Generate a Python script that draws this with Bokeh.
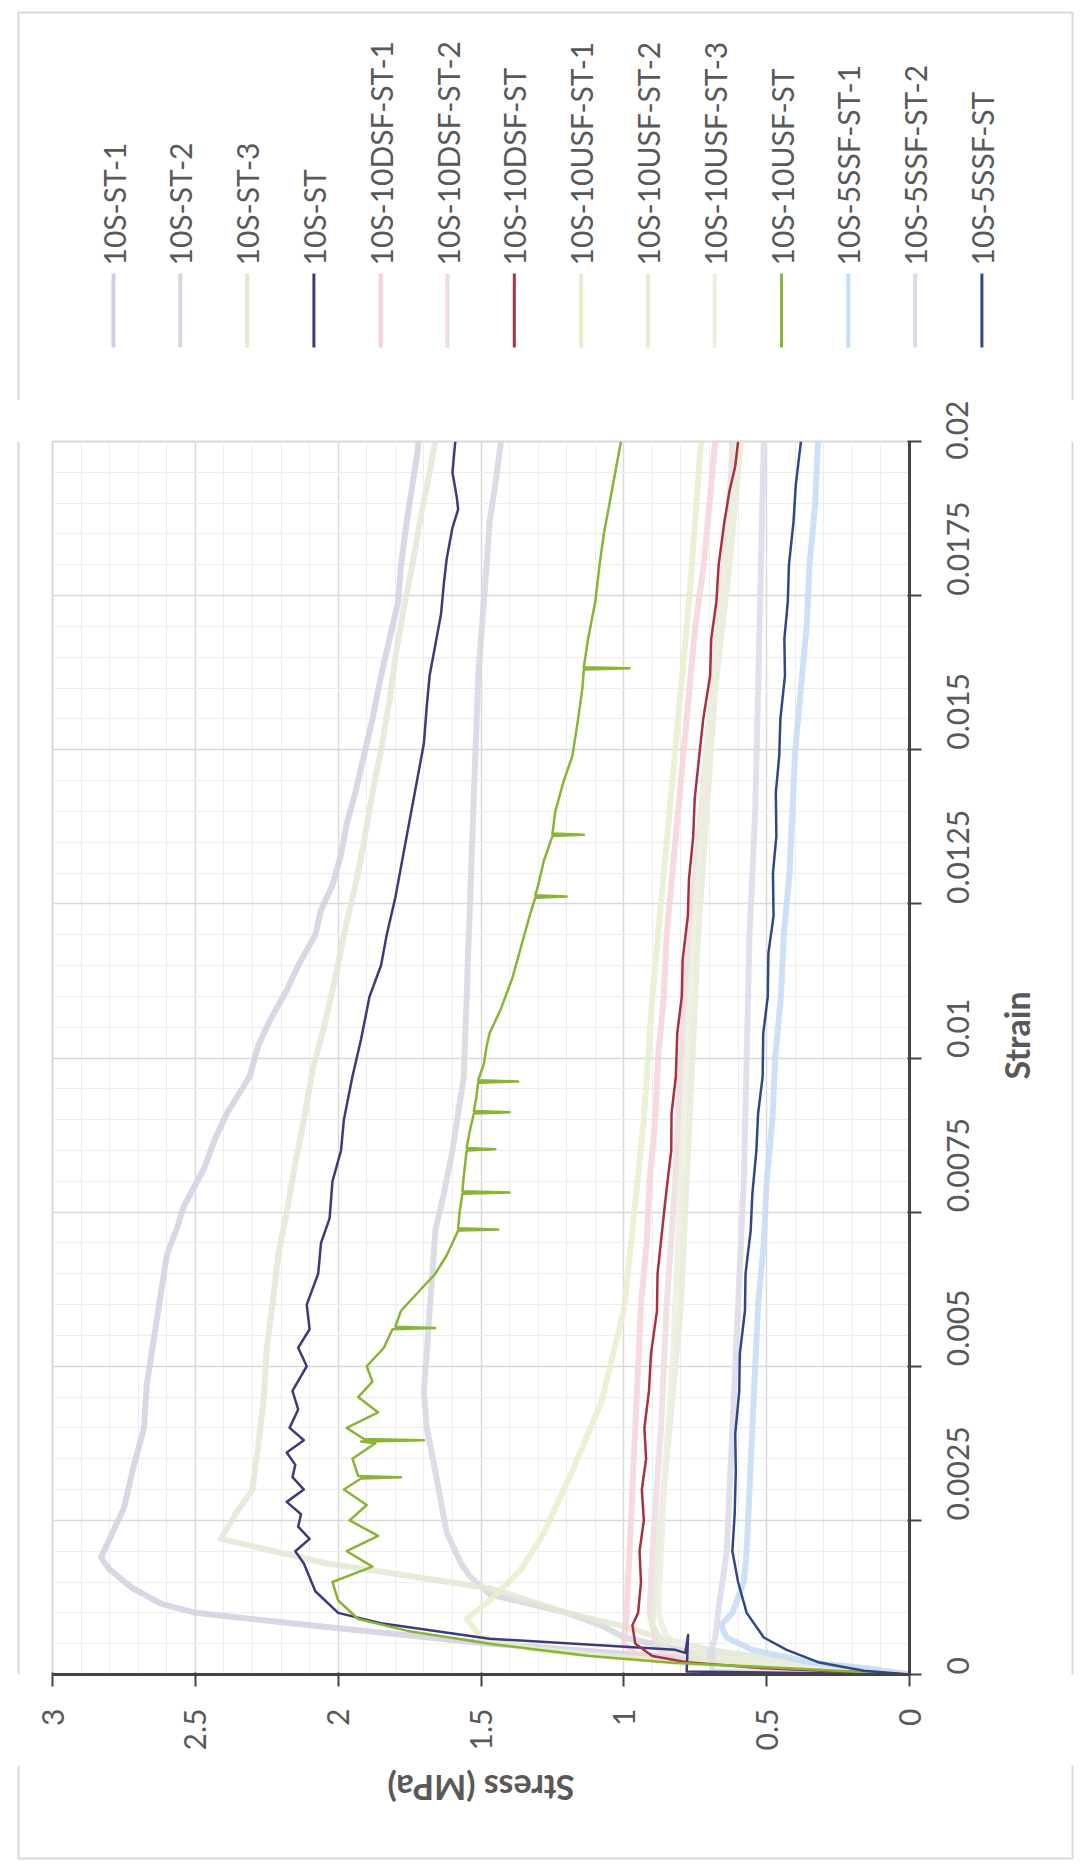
from math import pi

from bokeh.core.properties import value
from bokeh.embed import file_html
from bokeh.layouts import column, row
from bokeh.models import NumeralTickFormatter, Range1d, SingleIntervalTicker
from bokeh.plotting import figure
from bokeh.resources import INLINE

# ---------------------------------------------------------------- data
series_names = [
    "10S-ST-1", "10S-ST-2", "10S-ST-3", "10S-ST",
    "10S-10DSF-ST-1", "10S-10DSF-ST-2", "10S-10DSF-ST",
    "10S-10USF-ST-1", "10S-10USF-ST-2", "10S-10USF-ST-3", "10S-10USF-ST",
    "10S-5SSF-ST-1", "10S-5SSF-ST-2", "10S-5SSF-ST",
]

st1_strain = [0, 0.0001, 0.0002, 0.0003, 0.0005, 0.00077, 0.001, 0.00115, 0.0014, 0.0017,
              0.0019, 0.0023, 0.0027, 0.0033, 0.004, 0.0047, 0.0053, 0.0062, 0.0068, 0.0073,
              0.0076, 0.0082, 0.0087, 0.0091, 0.0097, 0.0102, 0.0106, 0.0111, 0.0115, 0.012,
              0.0124, 0.0128, 0.0133, 0.0138, 0.0143, 0.0149, 0.0155, 0.0162, 0.0168, 0.0174,
              0.018, 0.0187, 0.0193, 0.0199, 0.02]
st1_stress = [0, 0.3, 0.6, 0.89, 1.47, 2.04, 2.5, 2.62, 2.72, 2.8,
              2.83, 2.79, 2.75, 2.72, 2.68, 2.67, 2.65, 2.62, 2.6, 2.56,
              2.54, 2.47, 2.43, 2.39, 2.31, 2.28, 2.24, 2.18, 2.14, 2.08,
              2.06, 2.02, 1.99, 1.97, 1.94, 1.91, 1.88, 1.85, 1.82, 1.79,
              1.78, 1.76, 1.74, 1.72, 1.72]

st2_strain = [0, 0.0001, 0.0002, 0.0004, 0.0006, 0.0008, 0.001, 0.0013, 0.0016, 0.0018,
              0.0023, 0.0028, 0.0033, 0.004, 0.0046, 0.0052, 0.0059, 0.0065, 0.0072, 0.0078,
              0.0085, 0.0091, 0.0097, 0.0104, 0.011, 0.0117, 0.0123, 0.013, 0.0136, 0.0143,
              0.0149, 0.0155, 0.0162, 0.0168, 0.0174, 0.018, 0.0187, 0.0193, 0.02]
st2_stress = [0, 0.25, 0.5, 0.8, 1.0, 1.08, 1.2, 1.47, 1.54, 1.57,
              1.62, 1.64, 1.66, 1.69, 1.7, 1.69, 1.68, 1.67, 1.66, 1.63,
              1.6, 1.58, 1.56, 1.555, 1.55, 1.545, 1.54, 1.535, 1.53, 1.525,
              1.52, 1.515, 1.51, 1.5, 1.49, 1.48, 1.47, 1.45, 1.43]

st3_strain = [0, 0.0001, 0.0002, 0.0004, 0.0006, 0.00077, 0.001, 0.0014, 0.0018, 0.0022,
              0.0026, 0.003, 0.0037, 0.0045, 0.0053, 0.006, 0.0068, 0.0075, 0.0083, 0.009,
              0.0098, 0.0105, 0.0113, 0.012, 0.0128, 0.0135, 0.0143, 0.015, 0.0158, 0.0165,
              0.0173, 0.018, 0.0188, 0.0195, 0.02]
st3_stress = [0, 0.2, 0.4, 0.7, 0.88, 0.99, 1.2, 1.47, 2.04, 2.41,
              2.36, 2.3, 2.28, 2.26, 2.25, 2.23, 2.21, 2.18, 2.15, 2.12,
              2.09, 2.05, 2.01, 1.98, 1.94, 1.91, 1.88, 1.85, 1.82, 1.8,
              1.77, 1.74, 1.71, 1.68, 1.66]

st_strain = [0, 0.00005, 0.00064, 0.00035, 0.0004, 0.00058, 0.00083, 0.001, 0.00135,
             0.0018, 0.002, 0.0022, 0.0024, 0.0026, 0.0028, 0.003, 0.0032, 0.0034, 0.0036,
             0.0038, 0.004, 0.0043, 0.0046, 0.005, 0.0053, 0.0056, 0.006, 0.0065, 0.007,
             0.0074, 0.008, 0.0085, 0.009, 0.0097, 0.0103, 0.011, 0.0115, 0.012, 0.0126,
             0.0131, 0.0136, 0.0141, 0.0146, 0.0151, 0.0157, 0.0162, 0.0167, 0.0172, 0.0177,
             0.0181, 0.0186, 0.0189, 0.0191, 0.0195, 0.02]
st_stress = [0, 0.78, 0.775, 0.785, 0.82, 1.47, 1.85, 2.0, 2.08,
             2.12, 2.15, 2.1, 2.14, 2.13, 2.18, 2.12, 2.16, 2.15, 2.18,
             2.12, 2.17, 2.14, 2.16, 2.11, 2.14, 2.1, 2.11, 2.07, 2.06,
             2.03, 2.02, 1.99, 1.98, 1.95, 1.92, 1.89, 1.85, 1.83, 1.8,
             1.78, 1.76, 1.74, 1.72, 1.7, 1.69, 1.68, 1.66, 1.64, 1.63,
             1.62, 1.6, 1.58, 1.585, 1.6, 1.59]

dsf1_strain = [0, 0.0001, 0.0002, 0.0003, 0.0005, 0.001, 0.002, 0.003, 0.004, 0.005,
               0.006, 0.007, 0.008, 0.009, 0.01, 0.011, 0.012, 0.013, 0.014, 0.015,
               0.016, 0.017, 0.018, 0.019, 0.02]
dsf1_stress = [0, 0.4, 0.75, 0.95, 1.0, 0.99, 0.98, 0.97, 0.96, 0.95,
               0.94, 0.92, 0.91, 0.89, 0.88, 0.86, 0.85, 0.83, 0.81, 0.79,
               0.77, 0.75, 0.72, 0.7, 0.68]

dsf2_strain = [0, 0.0001, 0.0002, 0.0004, 0.001, 0.002, 0.004, 0.006, 0.008, 0.01,
               0.012, 0.014, 0.016, 0.018, 0.019, 0.02]
dsf2_stress = [0, 0.35, 0.7, 0.88, 0.91, 0.9, 0.87, 0.85, 0.82, 0.8,
               0.77, 0.73, 0.69, 0.65, 0.63, 0.62]

dsf_strain = [0, 0.00005, 0.0001, 0.0002, 0.0003, 0.0005, 0.0008, 0.001, 0.0015, 0.002,
              0.0025, 0.003, 0.0035, 0.004, 0.0046, 0.0052, 0.0059, 0.0065, 0.0072, 0.0078,
              0.0085, 0.0091, 0.0097, 0.0104, 0.011, 0.0116, 0.0123, 0.0129, 0.0136, 0.0142,
              0.0149, 0.0155, 0.0162, 0.0168, 0.0174, 0.018, 0.0187, 0.0192, 0.0196, 0.02]
dsf_stress = [0, 0.25, 0.5, 0.78, 0.9, 0.96, 0.97, 0.95, 0.94, 0.945,
              0.93, 0.937, 0.922, 0.928, 0.912, 0.905, 0.884, 0.882, 0.866, 0.852,
              0.834, 0.833, 0.818, 0.813, 0.797, 0.794, 0.776, 0.772, 0.757, 0.752,
              0.736, 0.722, 0.698, 0.694, 0.676, 0.668, 0.648, 0.63, 0.61, 0.6]

usf1_strain = [0, 0.0001, 0.0002, 0.0004, 0.0006, 0.0009, 0.0012, 0.0017, 0.0023, 0.0033,
               0.0044, 0.0059, 0.0072, 0.009, 0.011, 0.013, 0.015, 0.0175, 0.02]
usf1_stress = [0, 0.4, 0.8, 1.3, 1.5, 1.55, 1.47, 1.36, 1.28, 1.18,
               1.08, 1.0, 0.97, 0.93, 0.9, 0.86, 0.82, 0.77, 0.73]

usf2_strain = [0, 0.0001, 0.0002, 0.0004, 0.0008, 0.002, 0.004, 0.006, 0.008, 0.01,
               0.012, 0.014, 0.016, 0.018, 0.02]
usf2_stress = [0, 0.35, 0.65, 0.85, 0.9, 0.88, 0.84, 0.8, 0.78, 0.76,
               0.74, 0.71, 0.68, 0.63, 0.59]

usf3_strain = [0, 0.0001, 0.0003, 0.0006, 0.001, 0.003, 0.005, 0.007, 0.009, 0.011,
               0.013, 0.015, 0.017, 0.019, 0.02]
usf3_stress = [0, 0.3, 0.7, 0.85, 0.88, 0.86, 0.83, 0.81, 0.79, 0.77,
               0.74, 0.71, 0.67, 0.62, 0.6]

usf_strain = [0, 0.00005, 0.0001, 0.00019, 0.0003, 0.0004, 0.0005, 0.0007, 0.0009, 0.0012,
              0.0015, 0.00175, 0.002, 0.00225, 0.0025, 0.00275, 0.003, 0.00318, 0.0032, 0.00322,
              0.0035, 0.00375, 0.00378, 0.0038, 0.00382, 0.004, 0.00425, 0.0045, 0.00475, 0.005,
              0.0053, 0.0056, 0.00562, 0.00564, 0.0059, 0.0062, 0.0065, 0.0068, 0.007, 0.0072,
              0.00722, 0.00724, 0.0075, 0.0078, 0.00782, 0.00784, 0.0081, 0.0085, 0.00852, 0.00854,
              0.0088, 0.0091, 0.00912, 0.00914, 0.0094, 0.0096, 0.00962, 0.00964, 0.0099, 0.0102,
              0.0104, 0.0108,
              0.0113, 0.0118, 0.0123, 0.0126, 0.01262, 0.01264, 0.0128, 0.0132, 0.0136, 0.01362,
              0.01364, 0.014, 0.0145, 0.0149, 0.0155, 0.016, 0.0163, 0.01632, 0.01634, 0.0168,
              0.0174, 0.018, 0.0185, 0.019, 0.0195, 0.02]
usf_stress = [0, 0.2, 0.42, 0.83, 1.12, 1.3, 1.47, 1.75, 1.93, 2.0,
              2.02, 1.88, 1.97, 1.86, 1.96, 1.9, 1.98, 1.92, 1.78, 1.93,
              1.95, 1.87, 1.92, 1.7, 1.91, 1.97, 1.86, 1.93, 1.88, 1.9,
              1.84, 1.81, 1.66, 1.8, 1.78, 1.72, 1.66, 1.62, 1.6, 1.58,
              1.44, 1.58, 1.575, 1.565, 1.4, 1.565, 1.56, 1.55, 1.45, 1.55,
              1.54, 1.525, 1.4, 1.525, 1.515, 1.51, 1.37, 1.51, 1.49, 1.48,
              1.47, 1.43,
              1.39, 1.36, 1.33, 1.31, 1.2, 1.31, 1.3, 1.28, 1.25, 1.14,
              1.25, 1.24, 1.21, 1.18, 1.16, 1.145, 1.14, 0.98, 1.14, 1.125,
              1.1, 1.085, 1.07, 1.05, 1.03, 1.01]

ssf1_strain = [0, 0.0001, 0.0002, 0.0004, 0.0006, 0.0008, 0.001, 0.0015, 0.002, 0.003,
               0.004, 0.005, 0.006, 0.007, 0.008, 0.009, 0.01, 0.011, 0.012, 0.013,
               0.014, 0.015, 0.016, 0.017, 0.018, 0.019, 0.02]
ssf1_stress = [0, 0.15, 0.35, 0.55, 0.64, 0.66, 0.62, 0.58, 0.57, 0.56,
               0.55, 0.54, 0.53, 0.51, 0.5, 0.48, 0.47, 0.45, 0.44, 0.42,
               0.41, 0.4, 0.38, 0.36, 0.35, 0.33, 0.32]

ssf2_strain = [0, 0.00005, 0.0005, 0.0003, 0.0006, 0.001, 0.002, 0.004, 0.006, 0.008,
               0.01, 0.012, 0.014, 0.016, 0.018, 0.02]
ssf2_stress = [0, 0.69, 0.69, 0.7, 0.68, 0.67, 0.64, 0.62, 0.6, 0.58,
               0.57, 0.56, 0.54, 0.53, 0.52, 0.51]

ssf_strain = [0, 0.00006, 0.0002, 0.0004, 0.0006, 0.001, 0.0015, 0.002, 0.0026, 0.0033,
              0.0039, 0.0046, 0.0052, 0.0059, 0.0065, 0.0072, 0.0078, 0.0085, 0.0091, 0.0097,
              0.0104, 0.011, 0.0117, 0.0123, 0.013, 0.0136, 0.0143, 0.0149, 0.0155, 0.0162,
              0.0168, 0.0174, 0.018, 0.0187, 0.0193, 0.02]
ssf_stress = [0, 0.16, 0.32, 0.43, 0.51, 0.57, 0.6, 0.62, 0.612, 0.608,
              0.61, 0.596, 0.594, 0.576, 0.574, 0.556, 0.55, 0.536, 0.53, 0.514,
              0.512, 0.496, 0.494, 0.476, 0.478, 0.466, 0.468, 0.456, 0.452, 0.436,
              0.438, 0.426, 0.422, 0.406, 0.398, 0.38]

series_strain = [st1_strain, st2_strain, st3_strain, st_strain,
                 dsf1_strain, dsf2_strain, dsf_strain,
                 usf1_strain, usf2_strain, usf3_strain, usf_strain,
                 ssf1_strain, ssf2_strain, ssf_strain]
series_stress = [st1_stress, st2_stress, st3_stress, st_stress,
                 dsf1_stress, dsf2_stress, dsf_stress,
                 usf1_stress, usf2_stress, usf3_stress, usf_stress,
                 ssf1_stress, ssf2_stress, ssf_stress]

x_title = "Stress (MPa)"
y_title = "Strain"

# ---------------------------------------------------------------- styling
series_colors = ["#d0d0e2", "#d6d6e0", "#e3e7d5", "#3b3b7d",
                 "#f4d3d8", "#efdadf", "#a83240",
                 "#e8eecd", "#e6ebd6", "#eceedf", "#8ab435",
                 "#c6dbf5", "#dadaea", "#2e4a86"]
is_main = [False, False, False, True,
           False, False, True,
           False, False, False, True,
           False, False, True]

TEXT = "#595959"
FONT = "Lato"
BOX = "#d9d9d9"

W, H = 1080, 1872
LEG_H = 400                      # legend band at the top
SIDE_L = 30                      # left margin strip
RIGHT_X0 = 992                   # right strip (holds the strain title) starts here
MAIN_Y1 = 1765                   # bottom strip (holds the stress title) starts here
MAIN_W, MAIN_H = RIGHT_X0 - SIDE_L, MAIN_Y1 - LEG_H
SIDE_R, BOT_H = W - RIGHT_X0, H - MAIN_Y1
FRAME_L, FRAME_R, FRAME_T, FRAME_B = 52, 909, 441, 1674
BOX_L, BOX_R, BOX_T, BOX_B = 18, 1072, 12, 1858
Y_TITLE_X, X_TITLE_Y = 1016, 1788


def blank(width, height):
    f = figure(width=width, height=height, x_range=Range1d(0, width),
               y_range=Range1d(0, height), output_backend="svg", toolbar_location=None,
               min_border=0, x_axis_type=None, y_axis_type=None)
    f.outline_line_color = None
    f.background_fill_color = "white"
    f.border_fill_color = "white"
    return f


# ---------------------------------------------------------------- main chart
p = figure(width=MAIN_W, height=MAIN_H, output_backend="svg", toolbar_location=None,
           x_range=Range1d(3, 0), y_range=Range1d(0, 0.02), y_axis_location="right",
           min_border_left=FRAME_L - SIDE_L, min_border_right=RIGHT_X0 - FRAME_R,
           min_border_top=FRAME_T - LEG_H, min_border_bottom=MAIN_Y1 - FRAME_B)
p.background_fill_color = "white"
p.border_fill_color = "white"
p.outline_line_color = "#d9d9d9"
p.outline_line_width = 2

p.xaxis.ticker = SingleIntervalTicker(interval=0.5, num_minor_ticks=5)
p.yaxis.ticker = SingleIntervalTicker(interval=0.0025, num_minor_ticks=5)
p.xaxis.formatter = NumeralTickFormatter(format="0.[0]")
p.yaxis.formatter = NumeralTickFormatter(format="0.[0000]")

for ax, label_gap in ((p.xaxis[0], 22), (p.yaxis[0], 36)):
    ax.axis_line_color = "#444444"
    ax.axis_line_width = 3
    ax.major_tick_line_color = "#444444"
    ax.major_tick_line_width = 2
    ax.major_tick_in = 2
    ax.major_tick_out = 12
    ax.minor_tick_line_color = None
    ax.major_label_text_font = FONT
    ax.major_label_text_font_size = "30px"
    ax.major_label_text_color = TEXT
    ax.major_label_orientation = pi / 2
    ax.major_label_standoff = label_gap

for g in (p.xgrid[0], p.ygrid[0]):
    g.grid_line_color = "#d9d9d9"
    g.grid_line_width = 1.5
    g.minor_grid_line_color = "#ededed"
    g.minor_grid_line_width = 1

# faint repeat specimens first, averaged curves on top
for k in range(len(series_names)):
    if not is_main[k]:
        p.line(series_stress[k], series_strain[k], line_color=series_colors[k],
               line_width=6, line_alpha=0.85, line_join="round")
for k in range(len(series_names)):
    if is_main[k]:
        p.line(series_stress[k], series_strain[k], line_color=series_colors[k],
               line_width=2.5, line_join="round")

# ---------------------------------------------------------------- legend strip
leg = blank(W, LEG_H)
leg.line([BOX_L, BOX_L, BOX_R, BOX_R], [0, LEG_H - BOX_T, LEG_H - BOX_T, 0],
         line_color=BOX, line_width=2)
leg_x = [113 + 66.8 * k for k in range(len(series_names))]
leg.segment(x0=leg_x, y0=[LEG_H - 347] * len(leg_x), x1=leg_x, y1=[LEG_H - 273] * len(leg_x),
            line_color=series_colors, line_width=[3 if m else 4 for m in is_main])
leg.text(x=leg_x, y=[LEG_H - 265] * len(leg_x), text=series_names, angle=pi / 2,
         text_align="left", text_baseline="middle", text_font=value(FONT),
         text_font_size="30px", text_color=TEXT)

# ---------------------------------------------------------------- side strips and titles
left = blank(SIDE_L, MAIN_H)
left.line([BOX_L, BOX_L], [0, MAIN_H], line_color=BOX, line_width=2)

right = blank(SIDE_R, MAIN_H)
right.line([BOX_R - RIGHT_X0] * 2, [0, MAIN_H], line_color=BOX, line_width=2)
right.text(x=[Y_TITLE_X - RIGHT_X0], y=[MAIN_H - ((FRAME_T + FRAME_B) / 2 - LEG_H)],
           text=[y_title], angle=pi / 2, text_align="center", text_baseline="middle",
           text_font=value(FONT), text_font_style="bold", text_font_size="34px",
           text_color=TEXT)

bottom = blank(W, BOT_H)
bottom.line([BOX_L, BOX_L, BOX_R, BOX_R], [BOT_H, H - BOX_B, H - BOX_B, BOT_H],
            line_color=BOX, line_width=2)
bottom.text(x=[(FRAME_L + FRAME_R) / 2], y=[BOT_H - (X_TITLE_Y - MAIN_Y1)], text=[x_title],
            angle=pi, text_align="center", text_baseline="middle", text_font=value(FONT),
            text_font_style="bold", text_font_size="34px", text_color=TEXT)

layout = column(leg, row(left, p, right), bottom)

open("out.html", "w").write(file_html(layout, INLINE))
